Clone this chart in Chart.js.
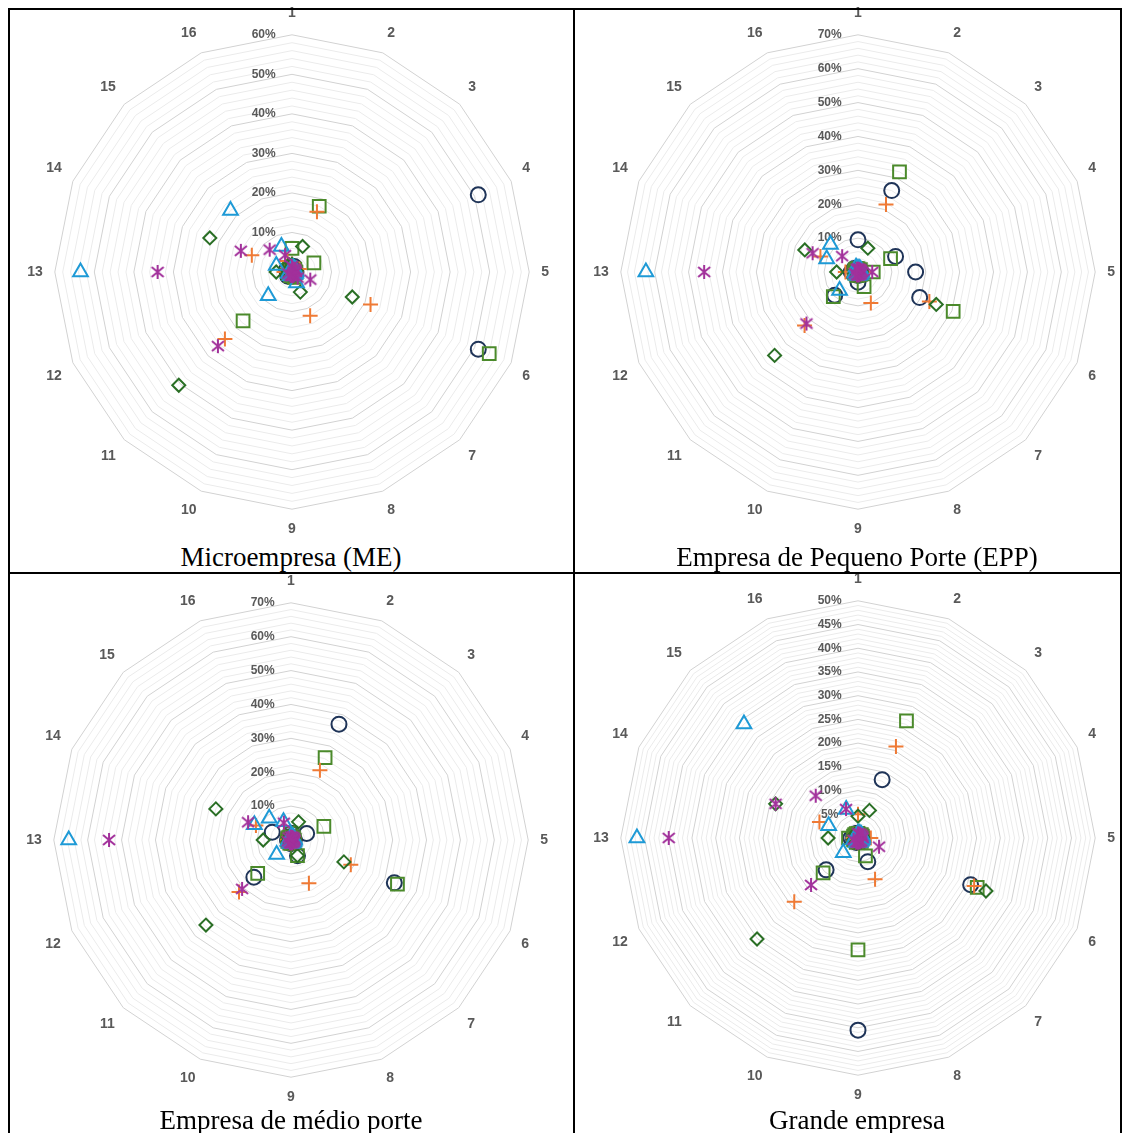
<!DOCTYPE html>
<html>
<head>
<meta charset="utf-8">
<script src="https://cdn.jsdelivr.net/npm/chart.js@4.4.0/dist/chart.umd.min.js"></script>
<style>
  body { margin: 0; background: #fff; }
  #page { position: relative; width: 1128px; height: 1133px; overflow: hidden; background: #fff; }
  .box { position: absolute; width: 566px; height: 534px; }
  .line { position: absolute; background: #000; }
  .title { position: absolute; width: 566px; height: 30px; line-height: 30px; text-align: center;
           font-family: "Liberation Serif", "Times New Roman", serif; font-size: 27px; color: #000; }
</style>
</head>
<body>
<div id="page">
  <div class="box" style="left:8px;top:5px"><canvas id="me"></canvas></div>
  <div class="box" style="left:574px;top:5px"><canvas id="epp"></canvas></div>
  <div class="box" style="left:7px;top:573px"><canvas id="mp"></canvas></div>
  <div class="box" style="left:574px;top:571px"><canvas id="ge"></canvas></div>

  <div class="title" style="left:8px;top:542px">Microempresa (ME)</div>
  <div class="title" style="left:574px;top:542px">Empresa de Pequeno Porte (EPP)</div>
  <div class="title" style="left:8px;top:1105px">Empresa de médio porte</div>
  <div class="title" style="left:574px;top:1105px">Grande empresa</div>

  <div class="line" style="left:8px;top:8px;width:1114px;height:2px"></div>
  <div class="line" style="left:8px;top:8px;width:2px;height:1125px"></div>
  <div class="line" style="left:1120px;top:8px;width:2px;height:1125px"></div>
  <div class="line" style="left:573px;top:8px;width:2px;height:1125px"></div>
  <div class="line" style="left:8px;top:572px;width:1114px;height:2px"></div>
</div>
<script>
// axis labels (16 items)
var axisLabels = ['1', '2', '3', '4', '5', '6', '7', '8', '9', '10', '11', '12', '13', '14', '15', '16'];

// Microempresa (ME), values in %
var meCircle   = [1, 1.5, 1, 51, 1, 51, 1, 1, 1, 1, 1.5, 1, 1, 1.5, 1, 1];
var meSquare   = [6, 18, 1, 6, 1, 54, 1, 1.5, 1, 1, 17.5, 1, 1, 1, 1, 1];
var mePlus     = [2, 16.5, 1, 2, 1, 21.5, 1, 12, 1, 1, 24, 1, 2, 11, 1.5, 3];
var meDiamond  = [2, 7, 1, 1, 1, 16.5, 1, 5.5, 1, 1, 40.5, 1, 4, 22.5, 1, 2];
var meTriangle = [1, 1, 1, 1, 1, 1, 1, 3, 1, 1, 8.5, 1, 53.5, 4.3, 22, 7];
var meStar     = [1.5, 1, 1, 1, 1, 5, 2, 1, 1, 1, 26.5, 1, 34, 14, 8, 4.6];

// Empresa de Pequeno Porte (EPP)
var eppCircle   = [9.5, 26, 1, 12, 17, 19.7, 1, 1, 3, 1, 9.7, 1, 2, 1, 1.5, 1];
var eppSquare   = [1, 32, 1, 10.4, 4.5, 30.4, 1, 4.7, 1, 1, 10.3, 1, 1, 1, 1, 1];
var eppPlus     = [1, 21.6, 1, 1, 2, 22.8, 1, 9.9, 1, 1, 22.3, 1, 3.7, 12, 1, 1];
var eppDiamond  = [1, 7.6, 1, 1, 1, 25, 1, 1, 1, 1, 34.8, 1, 6.3, 17, 1, 1];
var eppTriangle = [1, 1, 1, 1, 1, 1, 1, 1, 1, 1, 7.7, 1, 62.6, 10, 11.5, 1.5];
var eppStar     = [1, 1, 1, 1, 4.2, 1, 1, 1, 1, 1, 21.5, 1, 45.4, 14.5, 6.6, 1];

// Empresa de medio porte
var mpCircle   = [2, 37, 1, 5, 1, 33, 1, 5, 1, 1, 15.5, 1, 1, 6, 1, 1];
var mpSquare   = [2, 26.3, 1, 10.5, 1, 34, 1, 5, 1, 1, 13.9, 1, 1, 1, 1, 1];
var mpPlus     = [1, 22.3, 1, 1, 1, 19.1, 1, 13.8, 1, 1, 21.7, 1, 1, 11.2, 1, 1];
var mpDiamond  = [1.5, 5.8, 1, 1, 1, 16.9, 1, 5, 1, 1, 35.5, 1, 8.2, 24, 1, 1];
var mpTriangle = [1, 1, 1, 1, 1, 1, 1, 1, 1, 1, 6, 1, 65.6, 11.7, 9.1, 5.8];
var mpStar     = [1, 1, 1, 1, 1, 1, 1, 1, 1, 1, 20.4, 1, 53.7, 13.7, 1, 5.5];

// Grande empresa
var geCircle   = [1, 13.3, 1, 1, 1, 25.7, 1, 5.4, 40.5, 1, 9.5, 1, 1.5, 1, 1, 1];
var geSquare   = [1, 26.7, 1, 1, 1, 27.2, 1, 4.1, 23.6, 1, 10.4, 1, 2, 1, 1, 1];
var gePlus     = [5, 20.9, 1, 1, 2.7, 26.5, 1, 9.4, 1, 1, 19, 1, 1, 8.8, 1, 1];
var geDiamond  = [4.6, 6.3, 1, 1, 1, 29.2, 1, 1, 1, 1, 30.1, 1, 6.3, 18.8, 1, 1];
var geTriangle = [1, 1, 1, 1, 1, 1, 1, 1, 1, 1, 4.4, 1, 46.6, 6.7, 34, 6.5];
var geStar     = [1, 1, 1, 1, 1, 4.8, 1, 1, 1, 1, 14, 1, 39.9, 18.8, 12.6, 6.6];

// asterisk marker (x with a vertical bar)
function makeAsterisk(color) {
  var c = document.createElement('canvas');
  c.width = 16;
  c.height = 16;
  var ctx = c.getContext('2d');
  ctx.strokeStyle = color;
  ctx.lineWidth = 2;
  ctx.beginPath();
  ctx.moveTo(8, 1); ctx.lineTo(8, 15);
  ctx.moveTo(2, 3); ctx.lineTo(14, 13);
  ctx.moveTo(14, 3); ctx.lineTo(2, 13);
  ctx.stroke();
  return c;
}

var markerStyles = [
  { style: 'circle',   color: '#1f3458', radius: 7.5 },
  { style: 'rect',     color: '#4b8a2b', radius: 9 },
  { style: 'cross',    color: '#ef7a35', radius: 7.5 },
  { style: 'rectRot',  color: '#2a6f25', radius: 6.5 },
  { style: 'triangle', color: '#1e9ad6', radius: 8.5 },
  { style: makeAsterisk('#a2319b'), color: '#a2319b', radius: 8 }
];

function isMajor(v, labelStep) {
  var q = v / labelStep;
  return Math.abs(q - Math.round(q)) < 1e-6;
}

function makeRadar(id, series, max, step, labelStep) {
  var datasets = series.map(function (values, i) {
    var m = markerStyles[i];
    return {
      data: values,
      order: series.length - i, // later series drawn on top
      showLine: false,
      borderWidth: 0,
      borderColor: 'rgba(0,0,0,0)',
      backgroundColor: 'rgba(0,0,0,0)',
      fill: false,
      pointStyle: m.style,
      pointRadius: m.radius,
      pointBorderColor: m.color,
      pointBackgroundColor: 'rgba(0,0,0,0)',
      pointBorderWidth: 2,
      pointHoverRadius: m.radius
    };
  });

  new Chart(document.getElementById(id), {
    type: 'radar',
    data: { labels: axisLabels, datasets: datasets },
    options: {
      responsive: true,
      maintainAspectRatio: false,
      animation: false,
      events: [],
      plugins: { legend: { display: false }, tooltip: { enabled: false } },
      layout: { padding: 0 },
      scales: {
        r: {
          min: 0,
          max: max,
          // one ring per step
          afterBuildTicks: function (scale) {
            var ticks = [];
            for (var k = 0; k * step <= max + 1e-9; k++) {
              ticks.push({ value: k * step });
            }
            scale.ticks = ticks;
          },
          angleLines: { display: false },
          grid: {
            color: function (ctx) {
              var v = ctx.tick ? ctx.tick.value : 0;
              return isMajor(v, labelStep) ? '#d2d2d2' : '#ebebeb';
            },
            lineWidth: 1
          },
          ticks: {
            stepSize: step,
            autoSkip: false,
            showLabelBackdrop: false,
            color: '#595959',
            font: { family: 'Liberation Sans, Arial, sans-serif', size: 12, weight: 'bold' },
            callback: function (v) {
              // trailing spaces move the text left of the vertical axis
              return isMajor(v, labelStep) ? Math.round(v) + '%                 ' : '';
            }
          },
          pointLabels: {
            color: '#595959',
            padding: function (ctx) { return ctx.index === 0 ? 5 : 4; },
            font: { family: 'Liberation Sans, Arial, sans-serif', size: 14, weight: 'bold' }
          }
        }
      }
    }
  });
}

makeRadar('me', [meCircle, meSquare, mePlus, meDiamond, meTriangle, meStar], 60, 2, 10);
makeRadar('epp', [eppCircle, eppSquare, eppPlus, eppDiamond, eppTriangle, eppStar], 70, 2, 10);
makeRadar('mp', [mpCircle, mpSquare, mpPlus, mpDiamond, mpTriangle, mpStar], 70, 2, 10);
makeRadar('ge', [geCircle, geSquare, gePlus, geDiamond, geTriangle, geStar], 50, 1, 5);
</script>
</body>
</html>
